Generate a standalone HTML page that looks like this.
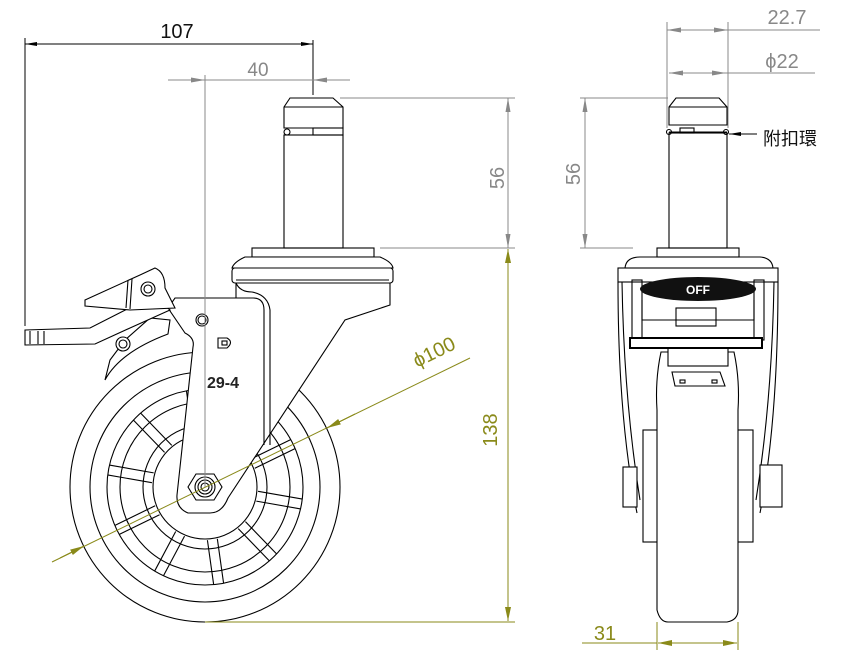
<!DOCTYPE html>
<html><head><meta charset="utf-8"><style>
html,body{margin:0;padding:0;background:#fff;width:860px;height:660px;overflow:hidden}
svg{display:block}
text{font-family:"Liberation Sans","Noto Sans CJK TC",sans-serif}
</style></head><body>
<svg width="860" height="660" viewBox="0 0 860 660" xmlns="http://www.w3.org/2000/svg">
<defs>
<marker id="ab" markerWidth="12" markerHeight="6" refX="12" refY="3" orient="auto" markerUnits="userSpaceOnUse"><path d="M0,1 L12,3 L0,5Z" fill="#000"/></marker>
<marker id="ag" markerWidth="14" markerHeight="6" refX="14" refY="3" orient="auto" markerUnits="userSpaceOnUse"><path d="M0,0.5 L14,3 L0,5.5Z" fill="#888"/></marker>
<marker id="ao" markerWidth="14" markerHeight="7" refX="14" refY="3.5" orient="auto" markerUnits="userSpaceOnUse"><path d="M0,0.5 L14,3.5 L0,6.5Z" fill="#8a8a1a"/></marker>
<g id="spk"><line x1="258" y1="482" x2="303" y2="482"/><line x1="258" y1="492" x2="303" y2="492"/></g>
</defs>

<!-- ===== LEFT VIEW DIMENSIONS ===== -->
<g stroke="#000" stroke-width="1" fill="none">
<line x1="25" y1="38" x2="25" y2="326"/>
<line x1="313" y1="40" x2="313" y2="95"/>
<line x1="160" y1="44" x2="25" y2="44" marker-end="url(#ab)"/>
<line x1="160" y1="44" x2="313" y2="44" marker-end="url(#ab)"/>
</g>
<text x="177" y="38" font-size="20" text-anchor="middle" fill="#111">107</text>

<g stroke="#888" stroke-width="1" fill="none">
<line x1="168" y1="80" x2="205" y2="80" marker-end="url(#ag)"/>
<line x1="205" y1="80" x2="313" y2="80"/>
<line x1="350" y1="80" x2="313" y2="80" marker-end="url(#ag)"/>
<line x1="340" y1="98" x2="515" y2="98"/>
<line x1="380" y1="248" x2="515" y2="248"/>
<line x1="508" y1="173" x2="508" y2="98" marker-end="url(#ag)"/>
<line x1="508" y1="173" x2="508" y2="248" marker-end="url(#ag)"/>
</g>
<text x="258" y="76" font-size="19" text-anchor="middle" fill="#888">40</text>
<text transform="translate(504,178) rotate(-90)" font-size="20" text-anchor="middle" fill="#888">56</text>

<!-- ===== LEFT VIEW PART ===== -->
<g stroke="#000" stroke-width="1.1" fill="none">
<!-- wheel -->
<circle cx="205" cy="487" r="135"/>
<circle cx="205" cy="487" r="115"/>
<circle cx="205" cy="487" r="98"/>
<circle cx="205" cy="487" r="85"/>
<circle cx="205" cy="487" r="62"/>
<circle cx="205" cy="487" r="52"/>
<use href="#spk" transform="rotate(10 205 487)"/>
<use href="#spk" transform="rotate(46 205 487)"/>
<use href="#spk" transform="rotate(82 205 487)"/>
<use href="#spk" transform="rotate(118 205 487)"/>
<use href="#spk" transform="rotate(154 205 487)"/>
<use href="#spk" transform="rotate(190 205 487)"/>
<use href="#spk" transform="rotate(226 205 487)"/>
<use href="#spk" transform="rotate(262 205 487)"/>
<use href="#spk" transform="rotate(298 205 487)"/>
<use href="#spk" transform="rotate(334 205 487)"/>
<!-- stem -->
<path d="M290,98 L333,98 L343,107 L343,128 L284,128 L284,107 Z"/>
<line x1="284" y1="107" x2="343" y2="107"/>
<circle cx="287" cy="132" r="3"/>
<rect x="313" y="128" width="30" height="7"/>
<line x1="287" y1="135" x2="343" y2="135"/>
<rect x="284" y="135" width="59" height="113"/>
<rect x="252" y="248" width="122" height="9"/>
<!-- fork (white filled, hides wheel) -->
<path fill="#fff" d="M175,298 L236,298 L236,283 L390,283 L390,305 L345,320 L228,498 Q222,513 210,513 L188,513 Q176,508 177,495 L193,347 Q195,338 185,333 L168,308 Z"/>
<path d="M236,298 L253,298 Q264,298 264,310 L264,445"/>
<path d="M236,283 Q240,292 252,292 Q268,295 270,310 L270,445"/>
<!-- swivel -->
<path fill="#fff" d="M245,257 L380,257 Q392,262 393,268 L232,268 Q234,262 245,257Z"/>
<rect x="232" y="268" width="161" height="15" rx="3" fill="#fff"/>
<line x1="236" y1="280" x2="389" y2="280"/>
<!-- hub nut -->
<polygon fill="#fff" points="196,474 214,474 222,487 214,500 196,500 188,487"/>
<circle cx="205" cy="487" r="10"/><circle cx="205" cy="487" r="7"/><circle cx="205" cy="487" r="4"/>
<!-- lever -->
<path fill="#fff" d="M105,380 Q120,352 168,334 L170,320 L150,318 L125,340 L110,360 Z"/>
<path fill="#fff" d="M25,330 L90,328 L135,305 L155,298 L170,310 L130,328 L95,344 L25,345 Z"/>
<path d="M30,331 L30,344 M38,331 L38,344 M44,331 L44,344"/>
<path fill="#fff" d="M85,300 L140,275 L155,268 Q165,272 165,288 L175,308 L130,310 L85,306 Z"/>
<path d="M128,280 L126,308 M132,279 L130,309"/>
<circle cx="148" cy="289" r="7" fill="#fff"/><circle cx="148" cy="289" r="4"/>
<circle cx="123" cy="344" r="7" fill="#fff"/><circle cx="123" cy="344" r="4"/>
<circle cx="202" cy="320" r="6"/><circle cx="202" cy="320" r="4"/>
<!-- logo -->
<path d="M218,338 L227,338 Q234,342 227,348 L218,348 Z"/>
<rect x="222" y="341" width="5" height="4"/>
</g>
<line x1="205" y1="75" x2="205" y2="487" stroke="#888" stroke-width="1"/>
<text x="207" y="388" font-size="16" font-weight="bold" fill="#222">29-4</text>

<g stroke="#8a8a1a" stroke-width="1" fill="none">
<line x1="508" y1="430" x2="508" y2="249" marker-end="url(#ao)"/>
<line x1="508" y1="430" x2="508" y2="621" marker-end="url(#ao)"/>
<line x1="205" y1="622" x2="515" y2="622"/>
<line x1="52" y1="562" x2="470" y2="358"/>
<line x1="60" y1="558" x2="84" y2="546" marker-end="url(#ao)"/>
<line x1="355" y1="414" x2="327" y2="428" marker-end="url(#ao)"/>
</g>
<text transform="translate(497,430) rotate(-90)" font-size="20" text-anchor="middle" fill="#8a8a1a">138</text>
<text transform="translate(437,358) rotate(-26)" font-size="20" text-anchor="middle" fill="#8a8a1a">ϕ100</text>

<!-- ===== RIGHT VIEW DIMENSIONS ===== -->
<g stroke="#888" stroke-width="1" fill="none">
<line x1="667" y1="22" x2="667" y2="128"/>
<line x1="728" y1="22" x2="728" y2="128"/>
<line x1="697" y1="30" x2="667" y2="30" marker-end="url(#ag)"/>
<line x1="697" y1="30" x2="728" y2="30" marker-end="url(#ag)"/>
<line x1="728" y1="30" x2="820" y2="30"/>
<line x1="697" y1="73" x2="669" y2="73" marker-end="url(#ag)"/>
<line x1="697" y1="73" x2="726" y2="73" marker-end="url(#ag)"/>
<line x1="726" y1="73" x2="815" y2="73"/>
<line x1="580" y1="98" x2="668" y2="98"/>
<line x1="580" y1="248" x2="633" y2="248"/>
<line x1="585" y1="173" x2="585" y2="98" marker-end="url(#ag)"/>
<line x1="585" y1="173" x2="585" y2="248" marker-end="url(#ag)"/>
</g>
<text x="787" y="24" font-size="20" text-anchor="middle" fill="#888">22.7</text>
<text x="782" y="68" font-size="20" text-anchor="middle" fill="#888">ϕ22</text>
<text transform="translate(580,174) rotate(-90)" font-size="20" text-anchor="middle" fill="#888">56</text>
<g stroke="#000" stroke-width="1"><line x1="757" y1="134" x2="729" y2="134" marker-end="url(#ab)"/></g>
<text x="763" y="145" font-size="18" fill="#111">附扣環</text>

<g stroke="#8a8a1a" stroke-width="1" fill="none">
<line x1="657" y1="622" x2="657" y2="650"/>
<line x1="738" y1="622" x2="738" y2="650"/>
<line x1="697" y1="643" x2="658" y2="643" marker-end="url(#ao)"/>
<line x1="697" y1="643" x2="737" y2="643" marker-end="url(#ao)"/>
<line x1="582" y1="643" x2="657" y2="643"/>
</g>
<text x="605" y="640" font-size="20" text-anchor="middle" fill="#8a8a1a">31</text>

<!-- ===== RIGHT VIEW PART ===== -->
<g stroke="#000" stroke-width="1.1" fill="none">
<path d="M676,98 L719,98 L727,107 L727,125 L669,125 L669,107 Z"/>
<line x1="669" y1="107" x2="727" y2="107"/>
<path d="M669,132 L727,132"/>
<circle cx="669" cy="132" r="2.5"/><circle cx="726" cy="132" r="2.5"/>
<rect x="680" y="128" width="14" height="5"/>
<rect x="669" y="133" width="58" height="115"/>
<rect x="657" y="248" width="82" height="9"/>
<path d="M625,268 Q626,257 640,257 L760,257 Q772,258 773,268"/>
<rect x="618" y="268" width="160" height="14"/>
<!-- side plates -->
<path d="M618,282 Q618,420 637,513"/>
<path d="M622,282 Q624,400 640,500"/>
<path d="M778,282 Q778,420 760,513"/>
<path d="M774,282 Q772,400 756,500"/>
<rect x="632" y="280" width="10" height="60"/>
<rect x="754" y="280" width="10" height="60"/>
<path d="M642,300 L642,320 L754,320 L754,300"/>
<rect x="676" y="308" width="40" height="18"/>
<!-- hub -->
<rect x="643" y="430" width="110" height="112" fill="#fff"/>
<rect x="623" y="467" width="14" height="40" fill="#fff"/>
<rect x="760" y="465" width="22" height="42" fill="#fff"/>
<!-- wheel -->
<path fill="#fff" d="M661,352 Q655,380 657,410 L657,610 Q660,622 668,622 L727,622 Q738,620 738,610 L738,410 Q740,380 734,352 Z"/>
<rect x="668" y="348" width="60" height="18" fill="#fff"/>
<path d="M672,372 L720,372 L725,386 L675,386 Z"/>
<rect x="680" y="380" width="5" height="3"/><rect x="712" y="380" width="5" height="3"/>
</g>
<rect x="630" y="338" width="132" height="10" fill="#fff" stroke="#000" stroke-width="2"/>
<ellipse cx="698" cy="289" rx="58" ry="12" fill="#111"/>
<text x="698" y="294" font-size="12" font-weight="bold" text-anchor="middle" fill="#fff">OFF</text>
</svg>
</body></html>
